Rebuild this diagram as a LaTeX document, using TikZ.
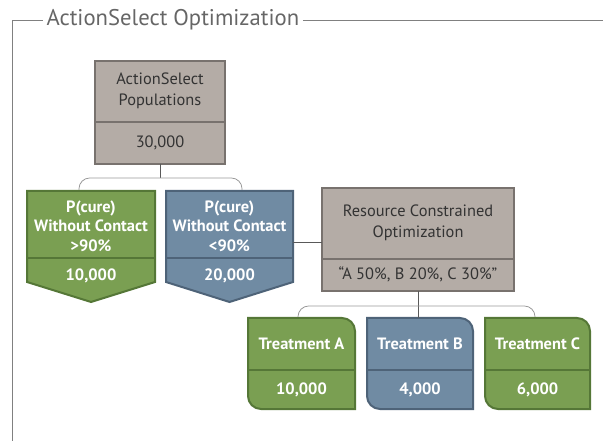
\documentclass[tikz,border=0pt]{standalone}
\usepackage{fontspec}
\setmainfont{PT Sans}
\definecolor{gfill}{HTML}{B4ACA6}
\definecolor{gline}{HTML}{78726E}
\definecolor{grfill}{HTML}{7A9F52}
\definecolor{grline}{HTML}{557737}
\definecolor{blfill}{HTML}{708BA3}
\definecolor{blline}{HTML}{4E6378}
\definecolor{txt}{HTML}{333333}
\tikzset{
  frame/.style={draw=black!50, line width=0.6pt},
  titletext/.style={text=black!60, font=\fontsize{17}{20}\selectfont, inner sep=2.5pt},
  graybox/.style={fill=gfill, draw=gline, line width=1.5pt},
  greenbox/.style={fill=grfill, draw=grline, line width=1.5pt},
  bluebox/.style={fill=blfill, draw=blline, line width=1.5pt},
  gtext/.style={text=txt, align=center, font=\fontsize{12.3}{15.7}\selectfont, inner sep=0pt},
  wtext/.style={text=white, align=center, font=\bfseries\fontsize{12.3}{14.6}\selectfont, inner sep=0pt},
  conn/.style={draw=black!65, line width=0.7pt},
  brack/.style={draw=black!40, line width=0.6pt, rounded corners=8pt},
}
\begin{document}
\begin{tikzpicture}[x=0.75pt,y=-0.75pt]
\useasboundingbox (0,0) rectangle (603,441);
% frame
\node[titletext, anchor=west] (title) at (43,20) {ActionSelect Optimization};
\draw[frame] (12,441) -- (12,20) -- (title.west);
\draw[frame] (title.east) -- (603,20);
% top gray box
\draw[graybox] (95,61) rectangle (225,164);
\draw[gline, line width=1.5pt] (95,122) -- (225,122);
\node[gtext] (pop) at (160,91) {ActionSelect\\Populations};
\node[gtext] (popn) at (160,143) {30,000};
\coordinate (popB) at (160,164);
% pentagon boxes
\draw[greenbox] (27,191) -- (155,191) -- (155,282) -- (91,302) -- (27,282) -- cycle;
\draw[grline, line width=1.5pt] (27,258) -- (155,258);
\node[wtext] (pg) at (91,226) {P(cure)\\Without Contact\\>90\%};
\node[wtext] (pgn) at (91,276) {10,000};
\coordinate (pgT) at (79,190);
\draw[bluebox] (166,191) -- (293,191) -- (293,282) -- (229.5,302) -- (166,282) -- cycle;
\draw[blline, line width=1.5pt] (166,258) -- (293,258);
\node[wtext] (pb) at (229.5,226) {P(cure)\\Without Contact\\<90\%};
\node[wtext] (pbn) at (229.5,276) {20,000};
\coordinate (pbT) at (242,190);
\coordinate (pbR) at (293,242);
% resource box
\draw[graybox] (322,188) rectangle (514,291);
\draw[gline, line width=1.5pt] (322,259) -- (514,259);
\node[gtext] (res) at (418,223) {Resource Constrained\\Optimization};
\node[gtext] (resn) at (418,274) {“A 50\%, B 20\%, C 30\%”};
\coordinate (resL) at (322,242);
\coordinate (resB) at (418,291);
% treatments
\draw[greenbox] (248,318) -- (342,318) arc[start angle=90,end angle=0,radius=9.75pt] -- (355,409) -- (261,409) arc[start angle=270,end angle=180,radius=9.75pt] -- cycle;
\draw[grline, line width=1.5pt] (248,370) -- (355,370);
\node[wtext] (ta) at (301.5,344) {Treatment A};
\node[wtext] (tan) at (301.5,390) {10,000};
\coordinate (taT) at (298,317);
\draw[bluebox] (367,318) -- (460,318) arc[start angle=90,end angle=0,radius=9.75pt] -- (473,409) -- (380,409) arc[start angle=270,end angle=180,radius=9.75pt] -- cycle;
\draw[blline, line width=1.5pt] (367,370) -- (473,370);
\node[wtext] (tb) at (420,344) {Treatment B};
\node[wtext] (tbn) at (420,390) {4,000};
\coordinate (tbT) at (418,318);
\draw[greenbox] (485,318) -- (577,318) arc[start angle=90,end angle=0,radius=9.75pt] -- (590,409) -- (498,409) arc[start angle=270,end angle=180,radius=9.75pt] -- cycle;
\draw[grline, line width=1.5pt] (485,370) -- (590,370);
\node[wtext] (tc) at (537.5,344) {Treatment C};
\node[wtext] (tcn) at (537.5,390) {6,000};
\coordinate (tcT) at (535,317);
% connectors
\draw[conn] (popB) -- (160,178);
\draw[brack] (pgT) -- (79,178) -- (242,178) -- (pbT);
\draw[conn] (pbR) -- (resL);
\draw[conn] (resB) -- (tbT);
\draw[brack] (taT) -- (298,306) -- (535,306) -- (tcT);
\end{tikzpicture}
\end{document}
